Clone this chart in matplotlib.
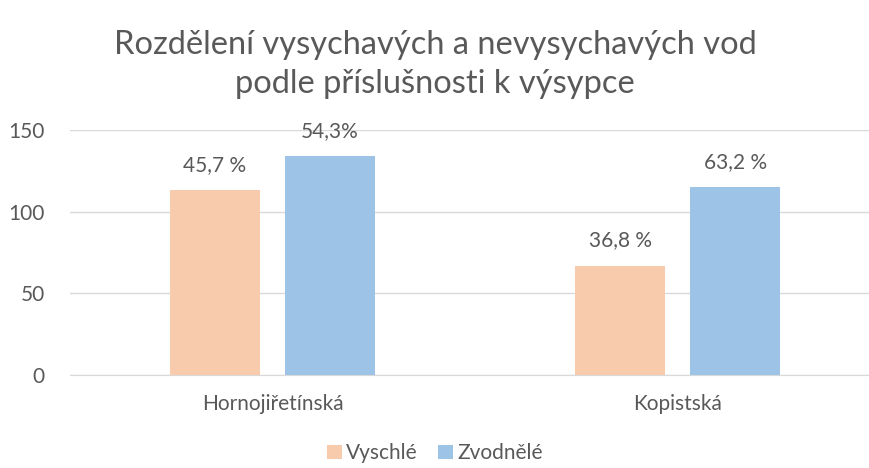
import numpy as np
import matplotlib.pyplot as plt

categories = ['Hornojiřetínská', 'Kopistská']
series = ['Vyschlé', 'Zvodnělé']
vyschle = [113, 67]
zvodnele = [134, 115]
labels_vyschle = ['45,7 %', '36,8 %']
labels_zvodnele = ['54,3%', '63,2 %']

plt.rcParams['font.family'] = ['Lato', 'DejaVu Sans']
text_col = '#595959'

fig = plt.figure(figsize=(8.7, 4.68), dpi=100)
ax = fig.add_axes([70 / 870, 1 - 375 / 468, 800 / 870, 245 / 468])

x = np.arange(len(categories))
w = 0.222
b1 = ax.bar(x - 0.142, vyschle, w, color='#F8CBAD', label=series[0], zorder=3)
b2 = ax.bar(x + 0.142, zvodnele, w, color='#9DC3E6', label=series[1], zorder=3)
ax.bar_label(b1, labels=labels_vyschle, padding=11, fontsize=15, color=text_col)
ax.bar_label(b2, labels=labels_zvodnele, padding=11, fontsize=15, color=text_col)

ax.set_xlim(-0.5, 1.475)
ax.set_ylim(0, 150)
ax.set_yticks([0, 50, 100, 150])
ax.set_xticks(x)
ax.set_xticklabels(categories)
ax.tick_params(axis='both', length=0, labelsize=15, labelcolor=text_col)
ax.tick_params(axis='x', pad=14)
ax.tick_params(axis='y', pad=18)
ax.grid(axis='y', color='#D9D9D9', linewidth=1, zorder=0)
for s in ['top', 'right', 'left']:
    ax.spines[s].set_visible(False)
ax.spines['bottom'].set_color('#D9D9D9')

fig.suptitle('Rozdělení vysychavých a nevysychavých vod\npodle příslušnosti k výsypce',
             fontsize=23.5, color=text_col, fontweight='normal',
             y=0.935, x=0.5, linespacing=1.35)

fig.legend(loc='lower center', bbox_to_anchor=(0.5, -0.03), ncol=2, frameon=False,
           fontsize=15, labelcolor=text_col, handlelength=0.7, handleheight=0.7,
           handletextpad=0.2, columnspacing=1.0)

fig.savefig('out.png', dpi=100)
